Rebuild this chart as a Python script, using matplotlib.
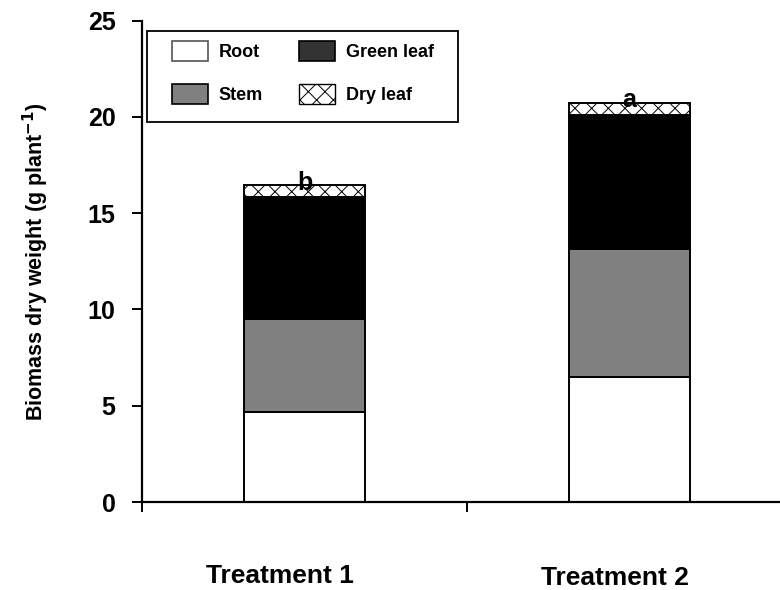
import matplotlib
matplotlib.use("Agg")
import matplotlib.pyplot as plt
from matplotlib.patches import Patch, Rectangle
import matplotlib.transforms as mtransforms

categories = ["Treatment 1", "Treatment 2"]
root = [4.7, 6.5]
stem = [4.8, 6.65]
green_leaf = [6.35, 6.95]
dry_leaf = [0.6, 0.65]
letters = ["b", "a"]
yticks = [0, 5, 10, 15, 20, 25]

plt.rcParams['font.family'] = ['Liberation Sans', 'DejaVu Sans']
plt.rcParams['font.weight'] = 'bold'
plt.rcParams['hatch.linewidth'] = 0.7

fig = plt.figure(figsize=(7.8, 5.9), dpi=100)
ax = fig.add_axes([142/780, 88/590, 650/780, (569.3-88)/590])

pos = [0.5, 1.5]
w = 0.37
lw = 1.4
ax.bar(pos, root, w, color='white', edgecolor='black', linewidth=lw)
ax.bar(pos, stem, w, bottom=root, color='#808080', edgecolor='black', linewidth=lw)
bottom3 = [r + s for r, s in zip(root, stem)]
ax.bar(pos, green_leaf, w, bottom=bottom3, color='black', edgecolor='black', linewidth=lw)
bottom4 = [b + g for b, g in zip(bottom3, green_leaf)]
ax.bar(pos, dry_leaf, w, bottom=bottom4, color='white', edgecolor='black',
       linewidth=lw, hatch='xx')
totals = [b + d for b, d in zip(bottom4, dry_leaf)]

for p, t, l in zip(pos, totals, letters):
    ax.text(p, t - 0.22, l, ha='center', va='baseline', fontsize=18, fontweight='bold')

ax.set_xlim(0, 2)
ax.set_ylim(0, 25)
ax.set_yticks(yticks)
ax.set_xticks([0, 1, 2])
ax.set_xticklabels([])
ax.tick_params(axis='y', labelsize=18, length=7, width=1.4, pad=12, direction='out')
ax.tick_params(axis='x', length=7, width=1.4, direction='out')
for lab in ax.get_yticklabels():
    lab.set_fontweight('bold')
ax.spines['top'].set_visible(False)
ax.spines['right'].set_visible(False)
ax.spines['left'].set_linewidth(1.6)
ax.spines['bottom'].set_linewidth(1.6)
ax.spines['bottom'].set_clip_on(False)

ax.set_ylabel("Biomass dry weight (g plant$^{\\mathbf{-1}}$)", fontsize=15.5, fontweight='bold')
ax.yaxis.set_label_coords(-0.14, 0.5)

trans = mtransforms.blended_transform_factory(ax.transData, fig.transFigure)
label_x = [0.425, 1.455]
label_y = [7/590, 5/590]
for x, y, c in zip(label_x, label_y, categories):
    ax.text(x, y, c, transform=trans, ha='center', va='baseline', fontsize=19,
            fontweight='bold', clip_on=False)

handles = [
    Patch(facecolor='white', edgecolor='#555555', linewidth=1.2, label='Root'),
    Patch(facecolor='#808080', edgecolor='black', linewidth=1.2, label='Stem'),
    Patch(facecolor='#333333', edgecolor='black', linewidth=1.2, label='Green leaf'),
    Patch(facecolor='white', edgecolor='black', linewidth=1.0, hatch='xx', label='Dry leaf'),
]
fig.legend(handles=handles, ncol=2, loc='upper left',
           bbox_to_anchor=(172/780, 1 - 40.7/590), bbox_transform=fig.transFigure,
           frameon=False, borderpad=0, borderaxespad=0,
           prop={'weight': 'bold', 'size': 13},
           handlelength=2.0, handleheight=1.33, handletextpad=0.6,
           columnspacing=2.0, labelspacing=1.27)

fig.patches.append(Rectangle((147.3/780, (590-121.7)/590), 310.7/780, 91/590,
                             transform=fig.transFigure, fill=False, edgecolor='black',
                             linewidth=1.3, zorder=5))

fig.savefig("out.png", dpi=100)
